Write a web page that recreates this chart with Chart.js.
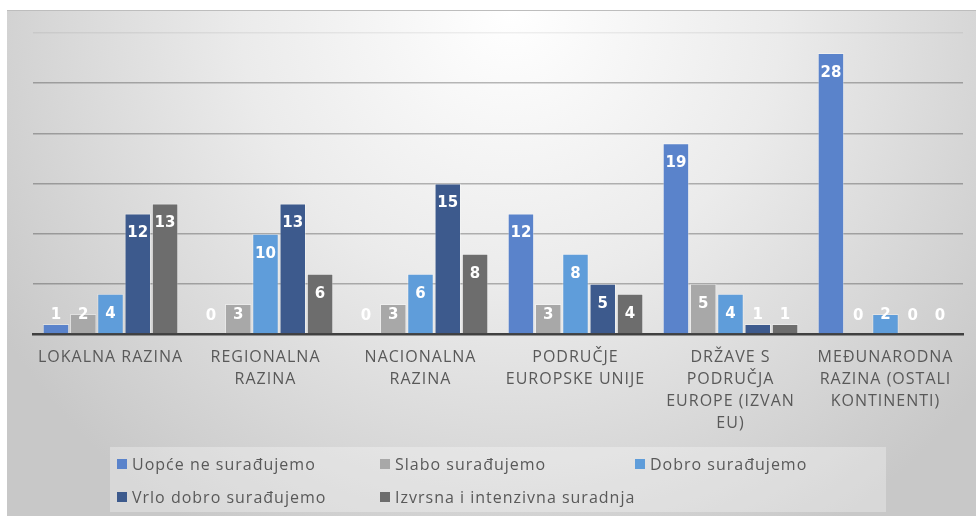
<!DOCTYPE html>
<html>
<head>
<meta charset="utf-8">
<script src="https://cdn.jsdelivr.net/npm/chart.js@4/dist/chart.umd.min.js"></script>
<style>
    html, body { margin: 0; padding: 0; background: #ffffff; }
    body { width: 976px; height: 516px; position: relative; overflow: hidden; }
    .chart-box {
        position: absolute;
        left: 7px; top: 10px;
        width: 969px; height: 506px;
        border-top: 1px solid #bdbdbd;
        box-sizing: border-box;
        background: radial-gradient(ellipse 62% 120% at 52% 0%, #ffffff 0%, #ebebeb 45%, #c8c8c8 100%);
    }
    .chart-box canvas { position: absolute; left: 0; top: 0; }
    .legend {
        position: absolute;
        left: 103px; top: 436px;
        width: 776px; height: 65px;
        background: rgba(255, 255, 255, 0.3);
        font-family: "Open Sans", sans-serif;
        font-size: 16px;
        letter-spacing: 1px;
        color: #595959;
    }
    .legend-item {
        position: absolute;
        display: flex;
        align-items: center;
        white-space: nowrap;
        height: 22px;
    }
    .legend-item .box {
        width: 10px; height: 10px;
        margin-right: 5px;
    }
</style>
</head>
<body>
<div class="chart-box">
    <canvas id="chart" width="969" height="506"></canvas>
    <div class="legend" id="legend"></div>
</div>
<script>
    // Categories (x axis)
    const categories = [
        ['LOKALNA RAZINA'],
        ['REGIONALNA', 'RAZINA'],
        ['NACIONALNA', 'RAZINA'],
        ['PODRUČJE', 'EUROPSKE UNIJE'],
        ['DRŽAVE S', 'PODRUČJA', 'EUROPE (IZVAN', 'EU)'],
        ['MEĐUNARODNA', 'RAZINA (OSTALI', 'KONTINENTI)']
    ];

    // Series
    const seriesNames = [
        'Uopće ne surađujemo',
        'Slabo surađujemo',
        'Dobro surađujemo',
        'Vrlo dobro surađujemo',
        'Izvrsna i intenzivna suradnja'
    ];
    const uopceNe   = [1, 0, 0, 12, 19, 28];
    const slabo     = [2, 3, 3, 3, 5, 0];
    const dobro     = [4, 10, 6, 8, 4, 2];
    const vrloDobro = [12, 13, 15, 5, 1, 0];
    const izvrsna   = [13, 6, 8, 4, 1, 0];

    const seriesColors = ['#5a83cb', '#a8a8a8', '#5f9dda', '#3d5a8d', '#6d6d6d'];

    // Value axis: 0..30, step 5 (no labels shown)
    const yMax = 30;
    const yStep = 5;

    const seriesData = [uopceNe, slabo, dobro, vrloDobro, izvrsna];

    // Slightly spaced text like the original axis labels
    const spacedText = {
        id: 'spacedText',
        beforeUpdate(chart) { chart.ctx.letterSpacing = '1px'; },
        beforeDraw(chart) { chart.ctx.letterSpacing = '1px'; }
    };

    // Data labels drawn inside the bar end (Excel "inside end"), clamped near the base
    const barLabels = {
        id: 'barLabels',
        afterDatasetsDraw(chart) {
            const ctx = chart.ctx;
            ctx.save();
            ctx.letterSpacing = '0px';
            ctx.font = 'bold 15px "DejaVu Sans", Verdana, sans-serif';
            ctx.fillStyle = '#ffffff';
            ctx.textAlign = 'center';
            ctx.textBaseline = 'middle';
            chart.data.datasets.forEach((ds, i) => {
                const meta = chart.getDatasetMeta(i);
                meta.data.forEach((bar, j) => {
                    const y = Math.min(bar.y + 20, bar.base - 18);
                    ctx.fillText(String(ds.data[j]), bar.x, y);
                });
            });
            ctx.restore();
        }
    };

    const chart = new Chart(document.getElementById('chart'), {
        type: 'bar',
        data: {
            labels: categories,
            datasets: seriesNames.map((name, i) => ({
                label: name,
                data: seriesData[i],
                backgroundColor: seriesColors[i],
                borderColor: 'rgba(255,255,255,0.35)',
                borderWidth: 1,
                categoryPercentage: 0.88,
                barPercentage: 0.97
            }))
        },
        options: {
            responsive: false,
            animation: false,
            layout: {
                padding: { left: 26, right: 13, top: 22, bottom: 0 }
            },
            plugins: {
                legend: { display: false },
                tooltip: { enabled: false }
            },
            scales: {
                x: {
                    grid: { display: false, drawTicks: false },
                    border: { display: true, color: '#404040', width: 2.5 },
                    ticks: {
                        color: '#595959',
                        padding: 12,
                        maxRotation: 0,
                        autoSkip: false,
                        font: { family: '"Open Sans", sans-serif', size: 16, lineHeight: 1.375 }
                    },
                    afterFit(scale) { scale.height = 183; }
                },
                y: {
                    min: 0,
                    max: yMax,
                    ticks: { stepSize: yStep, display: false },
                    border: { display: false },
                    grid: {
                        drawTicks: false,
                        lineWidth: 1.5,
                        color: ctx => ctx.tick && ctx.tick.value === yMax ? 'rgba(0,0,0,0.06)' : 'rgba(0,0,0,0.27)'
                    },
                    afterFit(scale) { scale.width = 0; }
                }
            }
        },
        plugins: [spacedText, barLabels]
    });

    // Legend laid out in columns like the original
    const legendEl = document.getElementById('legend');
    const colX = [7, 270, 525];
    const rowY = [6, 39];
    chart.data.datasets.forEach((ds, i) => {
        const item = document.createElement('div');
        item.className = 'legend-item';
        item.style.left = colX[i % 3] + 'px';
        item.style.top = rowY[Math.floor(i / 3)] + 'px';
        item.innerHTML = `<span class="box" style="background:${ds.backgroundColor}"></span><span>${ds.label}</span>`;
        legendEl.appendChild(item);
    });
</script>
</body>
</html>
